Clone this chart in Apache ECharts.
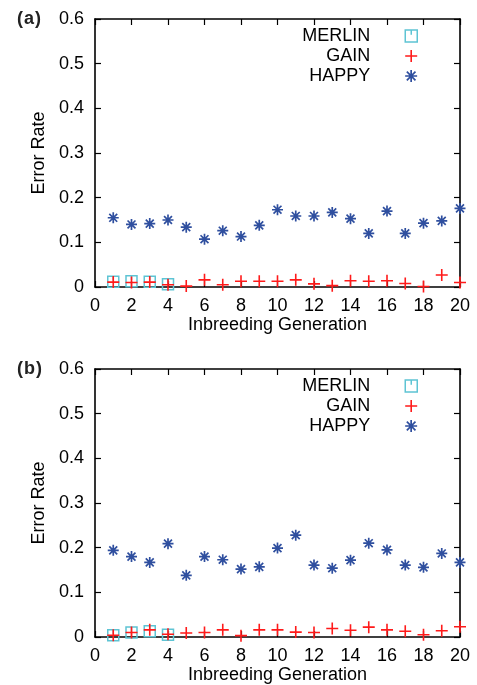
<!DOCTYPE html>
<html>
<head>
<meta charset="utf-8">
<script src="https://cdn.jsdelivr.net/npm/echarts@6/dist/echarts.min.js"></script>
<style>
html,body{margin:0;padding:0;background:#fff;}
#c{width:477px;height:685px;}
</style>
</head>
<body>
<div id="c"></div>
<script>
// ---- data ----
const generations = [1,2,3,4,5,6,7,8,9,10,11,12,13,14,15,16,17,18,19,20];
const merlinGenerations = [1,2,3,4];

// panel (a)
const merlinA = [0.012, 0.013, 0.012, 0.006];
const gainA = [0.011,0.010,0.011,0.005,0.002,0.016,0.005,0.013,0.013,0.013,0.016,0.007,0.003,0.014,0.013,0.014,0.008,0.001,0.027,0.010];
const happyA = [0.155,0.140,0.142,0.150,0.134,0.107,0.126,0.113,0.138,0.173,0.159,0.159,0.167,0.153,0.120,0.170,0.120,0.143,0.148,0.176];

// panel (b)
const merlinB = [0.004, 0.010, 0.013, 0.005];
const gainB = [0.004,0.010,0.016,0.006,0.009,0.010,0.016,0.003,0.016,0.016,0.011,0.010,0.019,0.015,0.022,0.016,0.013,0.005,0.014,0.023];
const happyB = [0.194,0.180,0.167,0.209,0.138,0.180,0.173,0.152,0.157,0.199,0.228,0.161,0.154,0.172,0.210,0.195,0.161,0.156,0.187,0.167];

const panelLabels = ['a', 'b'];
const seriesNames = ['MERLIN', 'GAIN', 'HAPPY'];
const xAxisTitle = 'Inbreeding Generation';
const yAxisTitle = 'Error Rate';

// ---- styles ----
const FONT = '"Liberation Sans", Arial, Helvetica, sans-serif';
const FS = 18;
const colors = { MERLIN: '#5ec4d4', GAIN: '#ff1a1a', HAPPY: '#2f4f9f' };
const symbols = {
  MERLIN: 'path://M-5,-5L5,-5L5,5L-5,5Z M0,-5L0,-1',
  GAIN: 'path://M-5,0L5,0M0,-5L0,5',
  HAPPY: 'path://M-5,0L5,0M0,-5L0,5M-3.6,-3.6L3.6,3.6M-3.6,3.6L3.6,-3.6'
};
const symSize = { MERLIN: 11, GAIN: 12, HAPPY: 11 };
const lw = { MERLIN: 1.5, GAIN: 1.6, HAPPY: 1.7 };

const panels = [
  { top: 19, merlin: merlinA, gain: gainA, happy: happyA },
  { top: 369, merlin: merlinB, gain: gainB, happy: happyB }
];
const plotH = 268;

const grid = [], xAxis = [], yAxis = [], series = [], legend = [], title = [];

panels.forEach((p, k) => {
  grid.push({ left: 95, top: p.top, width: 365, height: plotH, containLabel: false });
  const axisLine = { show: true, onZero: false, lineStyle: { color: '#000', width: 1.6 } };
  const tick = { show: true, inside: true, length: 6, lineStyle: { color: '#000', width: 1.2 } };
  xAxis.push({
    gridIndex: k, type: 'value', min: 0, max: 20, interval: 2, position: 'bottom',
    axisLine, axisTick: tick, splitLine: { show: false },
    axisLabel: { color: '#000', fontFamily: FONT, fontSize: FS, margin: 10 },
    name: xAxisTitle, nameLocation: 'middle', nameGap: 29,
    nameTextStyle: { color: '#000', fontFamily: FONT, fontSize: FS }
  });
  xAxis.push({
    gridIndex: k, type: 'value', min: 0, max: 20, interval: 2, position: 'top',
    axisLine, axisTick: tick, splitLine: { show: false }, axisLabel: { show: false }
  });
  yAxis.push({
    gridIndex: k, type: 'value', min: 0, max: 0.6, interval: 0.1, position: 'left',
    axisLine, axisTick: tick, splitLine: { show: false },
    axisLabel: { color: '#000', fontFamily: FONT, fontSize: FS, margin: 11 },
    name: yAxisTitle, nameLocation: 'middle', nameGap: 42, nameRotate: 90,
    nameTextStyle: { color: '#000', fontFamily: FONT, fontSize: FS }
  });
  yAxis.push({
    gridIndex: k, type: 'value', min: 0, max: 0.6, interval: 0.1, position: 'right',
    axisLine, axisTick: tick, splitLine: { show: false }, axisLabel: { show: false }
  });

  const mk = (name, xs, ys) => ({
    name, type: 'scatter', xAxisIndex: 2 * k, yAxisIndex: 2 * k,
    symbol: symbols[name], symbolSize: symSize[name],
    itemStyle: { color: 'rgba(0,0,0,0)', borderColor: colors[name], borderWidth: lw[name], opacity: 1 },
    emphasis: { disabled: true },
    data: xs.map((x, i) => [x, ys[i]])
  });
  series.push(mk('MERLIN', merlinGenerations, p.merlin));
  series.push(mk('GAIN', generations, p.gain));
  series.push(mk('HAPPY', generations, p.happy));

  seriesNames.forEach((nm, j) => {
    legend.push({
      data: [nm], orient: 'vertical', align: 'right', right: 59, top: p.top + 8 + 20 * j,
      padding: 0, itemWidth: 12, itemHeight: 12, selectedMode: false,
      itemStyle: { color: 'rgba(0,0,0,0)', borderColor: colors[nm], borderWidth: lw[nm] },
      textStyle: { color: '#000', fontFamily: FONT, fontSize: FS, padding: [0, 30, 0, 0] }
    });
  });

  title.push({
    left: 11, top: p.top - 14,
    text: '{p|(}{b|' + panelLabels[k] + '}{p|)}',
    textStyle: {
      rich: {
        p: { fontFamily: FONT, fontSize: FS, color: '#222', padding: [0, 1, 0, 1] },
        b: { fontFamily: FONT, fontSize: FS, fontWeight: 'bold', color: '#222' }
      }
    }
  });
});

const chart = echarts.init(document.getElementById('c'), null, { renderer: 'canvas' });
chart.setOption({
  animation: false,
  backgroundColor: '#fff',
  title, legend, grid, xAxis, yAxis, series
});
</script>
</body>
</html>
